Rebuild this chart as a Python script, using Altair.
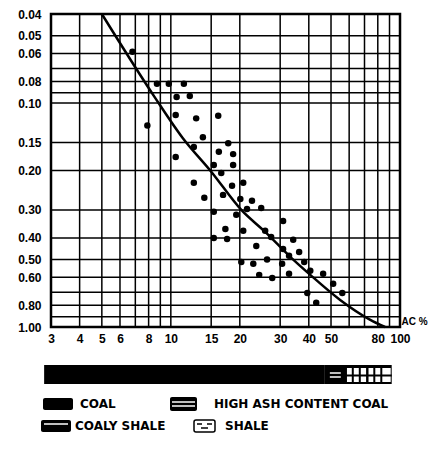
import altair as alt
import pandas as pd

# ---- data ----
ash_x = [6.8, 8.7, 9.8, 11.4, 10.6, 12.1, 10.5, 12.9, 16.1, 7.9,
         13.8, 12.6, 17.8, 16.2, 18.7, 10.5, 15.4, 18.7, 16.6, 12.6,
         20.7, 18.5, 16.9, 14.0, 20.1, 22.6, 21.5, 24.8, 15.4, 19.3,
         30.9, 17.3, 20.7, 15.4, 17.6, 25.8, 27.4, 34.2, 23.6, 30.9,
         36.3, 32.8, 20.3, 22.9, 26.3, 30.6, 38.2, 24.3, 27.7, 32.8,
         40.6, 46.2, 51.1, 39.4, 56.0, 43.1]
ash_y = [0.059, 0.082, 0.082, 0.082, 0.094, 0.093, 0.113, 0.117, 0.114, 0.126,
         0.142, 0.157, 0.151, 0.165, 0.169, 0.174, 0.189, 0.189, 0.205, 0.227,
         0.227, 0.234, 0.257, 0.265, 0.268, 0.273, 0.297, 0.294, 0.306, 0.315,
         0.336, 0.365, 0.372, 0.40, 0.405, 0.372, 0.396, 0.408, 0.435, 0.448,
         0.462, 0.481, 0.512, 0.522, 0.50, 0.522, 0.512, 0.585, 0.604, 0.579,
         0.561, 0.579, 0.641, 0.705, 0.705, 0.78]

curve_x = [5.0, 8.5, 11.2, 15.1, 20.3, 25.8, 33.2, 40.6, 54.8, 74.2, 86.0]
curve_y = [0.04, 0.094, 0.142, 0.204, 0.30, 0.376, 0.486, 0.585, 0.757, 0.929, 1.0]

grid_x = [3, 4, 5, 6, 7, 8, 9, 10, 15, 20, 30, 40, 50, 60, 70, 80, 90, 100]
grid_y = [0.04, 0.05, 0.06, 0.07, 0.08, 0.09, 0.10, 0.15, 0.20, 0.30, 0.40,
          0.50, 0.60, 0.70, 0.80, 0.90, 1.00]
tick_x = [3, 4, 5, 6, 8, 10, 15, 20, 30, 40, 50, 80, 100]
tick_y = [0.04, 0.05, 0.06, 0.08, 0.10, 0.15, 0.20, 0.30, 0.40, 0.50, 0.60, 0.80, 1.00]

litho_names = ["COAL", "HIGH ASH CONTENT COAL", "COALY SHALE", "SHALE"]
litho_from = [2.8, 47.0, 58.0, 72.0]
litho_to = [47.0, 58.0, 72.0, 92.0]

W, H = 349, 313
FONT = "Liberation Sans"
LFONT = "DejaVu Sans"

xs = alt.Scale(type="log", domain=[3, 100], nice=False)
ys = alt.Scale(type="log", domain=[0.04, 1.0], nice=False, reverse=True)

x_axis = alt.Axis(values=tick_x, format="d", grid=False, ticks=False,
                  domain=False, labelOverlap=False, labelFlush=False,
                  labelPadding=6, labelFontSize=12, labelFontWeight="bold",
                  labelFont=FONT, labelColor="black",
                  title="AC %", titleX=350, titleY=-6, titleAlign="left",
                  titleBaseline="middle", titleFontSize=10,
                  titleFontWeight="bold", titleFont=FONT, titleColor="black")
y_axis = alt.Axis(values=tick_y, format=".2f", grid=False, ticks=False,
                  domain=False, labelOverlap=False, labelFlush=False,
                  labelPadding=10, labelFontSize=12, labelFontWeight="bold",
                  labelFont=FONT, labelColor="black", labelBaseline="middle",
                  labelOffset=0, title=None)

pts = pd.DataFrame({"ash": ash_x, "v": ash_y})
crv = pd.DataFrame({"ash": curve_x, "v": curve_y})
gx = pd.DataFrame({"ash": grid_x})
gy = pd.DataFrame({"v": grid_y})
litho = pd.DataFrame({"name": litho_names, "ash": litho_from, "b": litho_to})

X = alt.X("ash:Q", scale=xs, axis=x_axis, title="AC %")
Y = alt.Y("v:Q", scale=ys, axis=y_axis, title=None)

grid_v = alt.Chart(gx).mark_rule(color="black", strokeWidth=1.5).encode(x=X)
grid_h = alt.Chart(gy).mark_rule(color="black", strokeWidth=1.5).encode(y=Y)

points = alt.Chart(pts).mark_circle(size=42, color="black", opacity=1).encode(x=X, y=Y)

curve = alt.Chart(crv).mark_line(color="black", strokeWidth=2.5,
                                 interpolate="monotone").encode(x=X, y=Y)

# lithology strip below the axis
BY0, BY1 = 351, 370
strip = alt.Chart(litho).mark_rect(color="black").encode(
    x=X, x2="b:Q", y=alt.value(BY0), y2=alt.value(BY1))
hac = alt.Chart(litho).transform_filter(
    alt.datum.name == "HIGH ASH CONTENT COAL")
hac_l1 = hac.mark_rule(color="white", strokeWidth=1.5, xOffset=5, x2Offset=-5).encode(
    x=X, x2="b:Q", y=alt.value(BY0 + 8))
hac_l2 = hac.mark_rule(color="white", strokeWidth=1.5, xOffset=5, x2Offset=-5).encode(
    x=X, x2="b:Q", y=alt.value(BY0 + 12))
sh = alt.Chart(litho).transform_filter(
    (alt.datum.name == "COALY SHALE") | (alt.datum.name == "SHALE"))
sh_box = sh.mark_rect(color="white", xOffset=1, x2Offset=-1).encode(
    x=X, x2="b:Q", y=alt.value(BY0 + 3), y2=alt.value(BY1 - 2))
sh_mid = sh.mark_rule(color="black", strokeWidth=2).encode(
    x=X, x2="b:Q", y=alt.value((BY0 + BY1) / 2 + 1))
sh_v1 = sh.mark_rule(color="black", strokeWidth=2).encode(
    x=X, y=alt.value(BY0), y2=alt.value(BY1))
sh_v2 = sh.mark_rule(color="black", strokeWidth=2, xOffset=7).encode(
    x=X, y=alt.value(BY0), y2=alt.value(BY1))
sh_v3 = sh.mark_rule(color="black", strokeWidth=2, xOffset=14).encode(
    x=X, y=alt.value(BY0), y2=alt.value(BY1))

# hand-drawn style legend
def one(name):
    return alt.Chart(pd.DataFrame({"name": [name]}))

def label(name, x, y):
    return one(name).mark_text(align="left", baseline="middle", fontSize=12,
                               fontWeight="bold", font=LFONT, color="black").encode(
        text="name:N", x=alt.value(x), y=alt.value(y))

def box(name, x0, x1, y0, y1, fill, stroke=None):
    kw = dict(color=fill, cornerRadius=2)
    if stroke:
        kw.update(stroke=stroke, strokeWidth=1.5)
    return one(name).mark_rect(**kw).encode(
        x=alt.value(x0), x2=alt.value(x1), y=alt.value(y0), y2=alt.value(y1))

def line(name, x0, x1, y, col):
    return one(name).mark_rule(color=col, strokeWidth=1.5).encode(
        x=alt.value(x0), x2=alt.value(x1), y=alt.value(y))

R1, R2 = 390, 412
legend = [
    box(litho_names[0], -8, 22, R1 - 6, R1 + 6, "black"),
    label(litho_names[0], 29, R1),
    box(litho_names[1], 119, 146, R1 - 7, R1 + 7, "black"),
    line(litho_names[1], 121, 144, R1 - 2, "white"),
    line(litho_names[1], 121, 144, R1 + 2, "white"),
    label(litho_names[1], 163, R1),
    box(litho_names[2], -10, 20, R2 - 6, R2 + 6, "black"),
    line(litho_names[2], -7, 17, R2 - 2, "white"),
    label(litho_names[2], 24, R2),
    box(litho_names[3], 143, 164, R2 - 6, R2 + 6, "white", "black"),
    line(litho_names[3], 146, 151, R2 - 2, "black"),
    line(litho_names[3], 156, 161, R2 - 2, "black"),
    line(litho_names[3], 150, 157, R2 + 2, "black"),
    label(litho_names[3], 174, R2),
]

chart = alt.layer(
    grid_v, grid_h, curve, points,
    strip, hac_l1, hac_l2, sh_box, sh_mid, sh_v1, sh_v2, sh_v3,
    *legend,
).properties(
    width=W, height=H,
    padding={"left": 43, "top": 6, "right": 28, "bottom": 107},
    autosize=alt.AutoSizeParams(type="none"),
    background="white",
).configure_view(
    stroke="black", strokeWidth=2.5
)

chart.save("out.html", embed_options={"renderer": "svg", "actions": False})
